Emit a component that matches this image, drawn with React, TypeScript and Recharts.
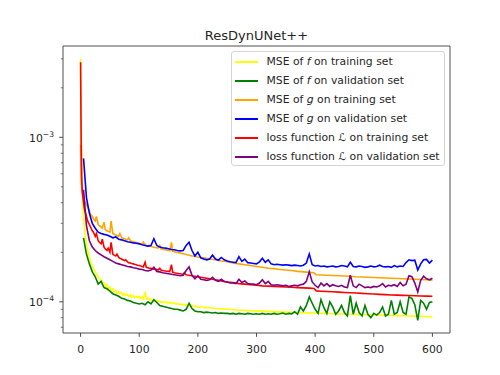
import { LineChart, Line, XAxis, YAxis, ReferenceArea } from "recharts"

const FONT = "'DejaVu Sans', sans-serif"
const INK = "#262626"
const UNIT = 1e-4

// epochs
const trainEpochs = [
  0, 1, 2, 3, 5, 7, 10, 12, 15, 17, 20, 22, 25, 27, 30, 32, 35, 37, 40, 42,
  45, 47, 50, 52, 55, 57, 60, 62, 65, 67, 70, 72, 75, 77, 80, 82, 85, 87, 90, 92,
  95, 97, 100, 102, 105, 107, 110, 112, 115, 117, 120, 122, 125, 127, 130, 132, 135, 137, 140, 142,
  145, 147, 150, 152, 155, 157, 160, 162, 165, 167, 170, 172, 175, 177, 180, 182, 185, 187, 190, 192,
  195, 197, 200, 210, 220, 230, 240, 250, 260, 270, 280, 290, 300, 310, 320, 330, 340, 350, 360, 370,
  380, 390, 398, 402, 410, 420, 430, 440, 450, 460, 470, 480, 490, 500, 510, 520, 530, 540, 550, 560,
  570, 580, 590, 600,
]

const valEpochs = [
  5, 10, 15, 20, 25, 30, 35, 40, 45, 50, 55, 60, 65, 70, 75, 80, 85, 90, 95, 100,
  105, 110, 115, 120, 125, 130, 135, 140, 145, 150, 155, 160, 165, 170, 175, 180, 185, 190, 195, 200,
  205, 210, 215, 220, 225, 230, 235, 240, 245, 250, 255, 260, 265, 270, 275, 280, 285, 290, 295, 300,
  305, 310, 315, 320, 325, 330, 335, 340, 345, 350, 355, 360, 365, 370, 375, 380, 385, 390, 395, 400,
  405, 410, 415, 420, 425, 430, 435, 440, 445, 450, 455, 460, 465, 470, 475, 480, 485, 490, 495, 500,
  505, 510, 515, 520, 525, 530, 535, 540, 545, 550, 555, 560, 565, 570, 575, 580, 585, 590, 595, 600,
]

// values in units of 1e-4
const fTrain = [
  30, 12, 6.5, 4.8, 3.3, 2.7, 2.25, 2.05, 1.85, 1.75, 1.65, 1.58, 1.52, 1.47, 1.42, 1.38, 1.36, 1.32, 1.3, 1.25,
  1.27, 1.2, 1.23, 1.18, 1.2, 1.15, 1.17, 1.13, 1.15, 1.12, 1.14, 1.1, 1.12, 1.09, 1.11, 1.08, 1.1, 1.07, 1.09, 1.06,
  1.08, 1.06, 1.08, 1.05, 1.07, 1.04, 1.15, 1.04, 1.05, 1.03, 1.04, 1.02, 1.03, 1.01, 1.02, 1.0, 1.01, 0.995, 1.0, 0.99,
  1.0, 0.985, 0.995, 0.98, 0.99, 0.975, 0.985, 0.97, 0.975, 0.965, 0.97, 0.96, 0.965, 0.955, 0.96, 0.95, 0.955, 0.945, 0.95, 0.94,
  0.945, 0.935, 0.93, 0.925, 0.92, 0.91, 0.905, 0.9, 0.895, 0.89, 0.887, 0.883, 0.88, 0.877, 0.874, 0.871, 0.868, 0.865, 0.862, 0.86,
  0.858, 0.856, 0.855, 0.852, 0.85, 0.848, 0.846, 0.844, 0.842, 0.84, 0.838, 0.836, 0.834, 0.832, 0.83, 0.828, 0.826, 0.824, 0.822, 0.82,
  0.818, 0.816, 0.813, 0.81,
]

const fVal = [
  2.45, 1.95, 1.7, 1.52, 1.42, 1.28, 1.33, 1.22, 1.2, 1.16, 1.12, 1.1, 1.08, 1.05, 1.04, 1.02, 1.01, 0.99, 0.98, 0.97,
  0.98, 0.96, 1.0, 0.97, 1.03, 0.99, 0.95, 0.94, 0.93, 0.92, 0.91, 0.9, 0.9, 0.89, 0.88, 0.9, 0.98, 0.91, 0.88, 0.87,
  0.87, 0.86, 0.865, 0.86, 0.855, 0.86, 0.85, 0.855, 0.85, 0.85, 0.845, 0.85, 0.84, 0.85, 0.845, 0.84, 0.85, 0.845, 0.84, 0.845,
  0.84, 0.85, 0.84, 0.845, 0.84, 0.85, 0.84, 0.845, 0.855, 0.84, 0.85, 0.845, 0.87, 0.84, 0.93, 0.88, 0.95, 1.07, 0.98, 0.9,
  0.85, 1.03, 0.92, 0.85, 1.0, 0.93, 0.84, 0.88, 0.95, 0.86, 0.82, 1.09, 0.84, 0.98, 0.86, 0.82, 0.95, 0.84, 0.8, 0.85,
  0.83, 0.86, 0.93, 0.82, 0.84, 1.02, 0.84, 0.86, 1.0, 0.86, 0.84, 1.07, 1.05, 0.96, 0.77, 1.02, 0.98, 0.9, 0.99, 1.0,
]

const gTrain = [
  9, 5.5, 4.9, 4.6, 4.4, 4.1, 3.9, 3.75, 3.6, 3.4, 3.3, 3.2, 3.1, 3.3, 2.95, 2.9, 2.85, 2.8, 3.05, 2.75,
  2.7, 2.68, 2.65, 3.1, 2.6, 2.57, 2.55, 2.52, 2.5, 2.6, 2.45, 2.43, 2.42, 2.4, 2.38, 2.45, 2.35, 2.33, 2.32, 2.3,
  2.3, 2.28, 2.27, 2.25, 2.24, 2.3, 2.22, 2.2, 2.19, 2.2, 2.18, 2.16, 2.15, 2.14, 2.13, 2.12, 2.2, 2.1, 2.09, 2.08,
  2.07, 2.06, 2.05, 2.04, 2.3, 2.03, 2.02, 2.0, 2.0, 1.99, 1.98, 1.97, 1.96, 1.95, 1.94, 1.93, 1.92, 1.91, 1.9, 1.9,
  1.89, 1.88, 1.87, 1.85, 1.82, 1.8, 1.77, 1.75, 1.72, 1.7, 1.68, 1.66, 1.64, 1.62, 1.6, 1.59, 1.57, 1.56, 1.55, 1.53,
  1.52, 1.51, 1.5, 1.46, 1.455, 1.45, 1.445, 1.44, 1.435, 1.43, 1.42, 1.415, 1.41, 1.405, 1.4, 1.395, 1.39, 1.385, 1.38, 1.375,
  1.37, 1.365, 1.36, 1.355,
]

const gVal = [
  7.45, 4.3, 3.45, 3.0, 2.8, 2.65, 2.6, 2.57, 2.55, 2.5, 2.45, 2.48, 2.4, 2.38, 2.35, 2.32, 2.3, 2.28, 2.27, 2.25,
  2.22, 2.2, 2.18, 2.2, 2.42, 2.2, 2.15, 2.13, 2.12, 2.1, 2.08, 2.07, 2.05, 2.04, 2.05, 2.2, 2.3, 2.05, 1.9, 2.0,
  1.85, 1.82, 1.8, 1.82, 1.92, 1.82, 1.79, 1.86, 1.8, 1.77, 1.75, 1.74, 1.73, 1.88, 1.76, 1.82, 1.73, 1.72, 1.71, 1.7,
  1.75, 1.84, 1.74, 1.8, 1.7, 1.68, 1.69, 1.68, 1.67, 1.68, 1.67, 1.66, 1.67, 1.66, 1.65, 1.67, 1.72, 1.95, 1.68, 1.65,
  1.66, 1.64, 1.65, 1.63, 1.64, 1.65, 1.63, 1.64, 1.66, 1.65, 1.63, 1.74, 1.64, 1.63, 1.65, 1.64, 1.62, 1.63, 1.65, 1.63,
  1.64, 1.67, 1.64, 1.63, 1.64, 1.62, 1.66, 1.63, 1.65, 1.64, 1.73, 1.8, 1.78, 1.79, 1.56, 1.7, 1.8, 1.81, 1.72, 1.79,
]

const lossTrain = [
  28.6, 9, 5.5, 4.6, 4.0, 3.6, 3.3, 3.1, 2.95, 2.85, 2.7, 2.65, 2.5, 2.6, 2.35, 2.3, 2.25, 2.4, 2.15, 2.1,
  2.05, 2.12, 2.0, 2.3, 1.95, 1.92, 1.9, 1.95, 1.86, 1.84, 1.82, 1.8, 1.78, 1.8, 1.75, 1.73, 1.72, 1.71, 1.7, 1.69,
  1.68, 1.67, 1.66, 1.65, 1.64, 1.63, 1.74, 1.62, 1.61, 1.6, 1.6, 1.59, 1.58, 1.58, 1.57, 1.56, 1.6, 1.56, 1.55, 1.545,
  1.54, 1.535, 1.53, 1.525, 1.68, 1.515, 1.5, 1.495, 1.49, 1.485, 1.48, 1.475, 1.47, 1.5, 1.46, 1.455, 1.45, 1.445, 1.44, 1.435,
  1.43, 1.425, 1.42, 1.4, 1.38, 1.36, 1.34, 1.32, 1.31, 1.29, 1.28, 1.27, 1.26, 1.25, 1.245, 1.24, 1.235, 1.23, 1.225, 1.22,
  1.215, 1.21, 1.205, 1.165, 1.16, 1.155, 1.15, 1.145, 1.14, 1.135, 1.13, 1.125, 1.12, 1.115, 1.11, 1.105, 1.1, 1.097, 1.094, 1.091,
  1.088, 1.085, 1.082, 1.08,
]

const lossVal = [
  4.8, 2.9, 2.35, 2.15, 2.05, 1.98, 1.93, 1.88, 1.84, 1.8, 1.76, 1.72, 1.7, 1.68, 1.66, 1.64, 1.63, 1.61, 1.6, 1.58,
  1.57, 1.55, 1.54, 1.56, 1.62, 1.53, 1.52, 1.5, 1.49, 1.48, 1.47, 1.46, 1.45, 1.44, 1.45, 1.55, 1.63, 1.45, 1.38, 1.44,
  1.37, 1.36, 1.35, 1.36, 1.41, 1.35, 1.33, 1.37, 1.33, 1.32, 1.3, 1.3, 1.29, 1.37, 1.31, 1.34, 1.29, 1.28, 1.28, 1.27,
  1.3, 1.36, 1.29, 1.33, 1.27, 1.26, 1.27, 1.26, 1.25, 1.26, 1.24, 1.25, 1.26, 1.25, 1.27, 1.28, 1.33, 1.52, 1.32, 1.26,
  1.22, 1.3, 1.25, 1.29, 1.24, 1.27, 1.25, 1.24, 1.26, 1.23, 1.22, 1.45, 1.25, 1.22, 1.28, 1.25, 1.22, 1.23, 1.22, 1.24,
  1.23, 1.25, 1.29, 1.23, 1.26, 1.25, 1.27, 1.24, 1.31, 1.25, 1.28, 1.44, 1.42, 1.3, 1.15, 1.35, 1.43, 1.38, 1.36, 1.39,
]

const xTicks = [0, 100, 200, 300, 400, 500, 600]
const yMajor = [1e-4, 1e-3]
const yMajorExp = ["\u22124", "\u22123"]
const yMinor = [7e-5, 8e-5, 9e-5, 2e-4, 3e-4, 4e-4, 5e-4, 6e-4, 7e-4, 8e-4, 9e-4, 2e-3, 3e-3]
const xDomain: [number, number] = [-30, 630]
const yDomain: [number, number] = [6.46e-5, 3.59e-3]

const toPoints = (xs: number[], ys: number[]) => xs.map((x, i) => ({ x, y: ys[i] * UNIT }))

const series = [
  { key: "fTrain", color: "#ffff00", data: toPoints(trainEpochs, fTrain), label: <>MSE of <i>f</i> on training set</> },
  { key: "fVal", color: "#008000", data: toPoints(valEpochs, fVal), label: <>MSE of <i>f</i> on validation set</> },
  { key: "gTrain", color: "#ffa500", data: toPoints(trainEpochs, gTrain), label: <>MSE of <i>g</i> on training set</> },
  { key: "gVal", color: "#0000ff", data: toPoints(valEpochs, gVal), label: <>MSE of <i>g</i> on validation set</> },
  { key: "lossTrain", color: "#ff0000", data: toPoints(trainEpochs, lossTrain), label: <>loss function {"\u2112"} on training set</> },
  { key: "lossVal", color: "#800080", data: toPoints(valEpochs, lossVal), label: <>loss function {"\u2112"} on validation set</> },
]

function XTick(props: any) {
  const { x, y, payload } = props
  return (
    <g>
      <line x1={x} x2={x} y1={y} y2={y + 3.8} stroke="#3a3a3a" strokeWidth={0.9} />
      <text x={x} y={y + 20} textAnchor="middle" fontFamily={FONT} fontSize={10.8} fill={INK}>
        {payload.value}
      </text>
    </g>
  )
}

function YTick(props: any) {
  const { x, y, payload } = props
  const idx = yMajor.indexOf(payload.value)
  const major = idx >= 0
  return (
    <g>
      <line x1={x} x2={x - (major ? 3.8 : 2.2)} y1={y} y2={y} stroke="#3a3a3a" strokeWidth={major ? 0.9 : 0.7} />
      {major && (
        <text x={x - 9} y={y + 4.4} textAnchor="end" fontFamily={FONT} fontSize={10.8} fill={INK}>
          10<tspan dy={-5} fontSize={7.6}>{yMajorExp[idx]}</tspan>
        </text>
      )}
    </g>
  )
}

function LegendBox() {
  return (
    <div
      style={{
        position: "absolute",
        left: 230.5,
        top: 51,
        width: 214,
        height: 115,
        boxSizing: "border-box",
        border: "1px solid #d4d4d4",
        borderRadius: 3,
        background: "rgba(255,255,255,0.8)",
        fontFamily: FONT,
        fontSize: 10.8,
        color: INK,
      }}
    >
      {series.map((s, i) => (
        <div key={s.key} style={{ position: "absolute", left: 0, top: 10 + 19 * i - 9, height: 18, width: "100%" }}>
          <div style={{ position: "absolute", left: 3, top: 8.3, width: 23, height: 1.4, background: s.color }} />
          <div style={{ position: "absolute", left: 35, top: 0, lineHeight: "18px", whiteSpace: "nowrap" }}>{s.label}</div>
        </div>
      ))}
    </div>
  )
}

export default function App() {
  return (
    <div style={{ position: "absolute", left: 0, top: 0, width: 500, height: 375, background: "#fff" }}>
      <svg width={500} height={46} style={{ position: "absolute", left: 0, top: 0 }}>
        <text x={256.5} y={39.5} textAnchor="middle" fontFamily={FONT} fontSize={13} fill={INK}>
          ResDynUNet++
        </text>
      </svg>
      <LineChart width={500} height={375} margin={{ top: 46, right: 50, bottom: 0, left: 0 }}>
        <XAxis
          dataKey="x"
          type="number"
          domain={xDomain}
          ticks={xTicks}
          tick={<XTick />}
          tickSize={0}
          tickMargin={0}
          tickLine={false}
          axisLine={false}
          height={42}
          interval={0}
          allowDataOverflow
        />
        <YAxis
          type="number"
          scale="log"
          domain={yDomain}
          ticks={[...yMinor, ...yMajor]}
          tick={<YTick />}
          tickSize={0}
          tickMargin={0}
          tickLine={false}
          axisLine={false}
          width={63}
          interval={0}
          allowDataOverflow
        />
        <ReferenceArea
          x1={xDomain[0]}
          x2={xDomain[1]}
          y1={yDomain[0]}
          y2={yDomain[1]}
          fill="none"
          stroke="#3a3a3a"
          strokeWidth={0.9}
          ifOverflow="visible"
        />
        {series.map((s) => (
          <Line
            key={s.key}
            data={s.data}
            dataKey="y"
            type="linear"
            stroke={s.color}
            strokeWidth={1.6}
            dot={false}
            isAnimationActive={false}
          />
        ))}
      </LineChart>
      <LegendBox />
    </div>
  )
}
